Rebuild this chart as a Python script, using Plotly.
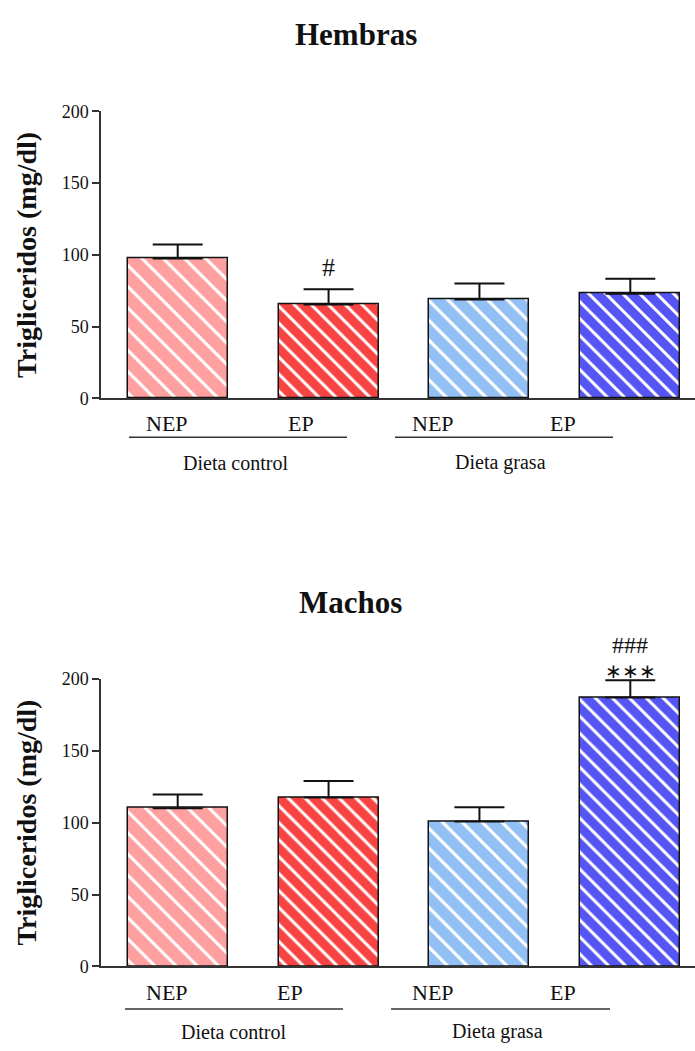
import plotly.graph_objects as go

W, H = 695, 1051

groups = ["Dieta control", "Dieta grasa"]
categories = ["NEP", "EP", "NEP", "EP"]
colors = ["#FFA0A0", "#F84343", "#92C0F5", "#5555F3"]
stripe_sizes = [15, 12, 14, 12]
stripe_solidity = [0.2, 0.25, 0.22, 0.25]

hembras_mean = [97.5, 65.4, 69.0, 72.9]
hembras_err = [9.8, 10.6, 11.0, 10.5]
hembras_marks = ["", "#", "", ""]

machos_mean = [110.0, 117.5, 100.7, 187.0]
machos_err = [9.5, 11.4, 10.0, 11.9]
machos_marks = ["", "", "", "∗∗∗"]
machos_marks2 = ["", "", "", "###"]

FONT = "Liberation Serif, Times New Roman, serif"

# pixel helpers (layout only)
def px(x):
    return x / W

def py(y):
    return 1 - y / H

x_left_px, x_right_px = 101, 695
bar_c0, bar_step = 177.7, 150.87
xrange = [(x_left_px - bar_c0) / bar_step, (x_right_px - bar_c0) / bar_step]
xpos = list(range(len(categories)))

fig = go.Figure()

panels = [
    dict(mean=hembras_mean, err=hembras_err, xa="x", ya="y", top=103.3, bot=396.0,
         title="Hembras", title_xy=(356, 25), lab_y=421.7, line_y=435.5, grp_y=461.7,
         lab_x=[166.7, 300.5, 433, 563], lines=[(129, 347), (395, 613)], grp_x=[235.8, 500.8],
         marks=hembras_marks, marks2=None),
    dict(mean=machos_mean, err=machos_err, xa="x2", ya="y2", top=681.7, bot=975.0,
         title="Machos", title_xy=(350, 604), lab_y=1001.7, line_y=1018.3, grp_y=1041.7,
         lab_x=[167, 290, 432.5, 562.8], lines=[(125, 343), (391, 610)], grp_x=[233.8, 497.5],
         marks=machos_marks, marks2=machos_marks2),
]

annotations = []
shapes = []
for i, p in enumerate(panels):
    for k in range(len(categories)):
        fig.add_trace(go.Bar(
            x=[xpos[k]], y=[p["mean"][k]], width=0.663, xaxis=p["xa"], yaxis=p["ya"],
            marker=dict(color=colors[k], line=dict(color="#111", width=1.5),
                        pattern=dict(shape="\\", fgcolor="white", fgopacity=1, bgcolor=colors[k],
                                     size=stripe_sizes[k], solidity=stripe_solidity[k],
                                     fillmode="overlay")),
            error_y=dict(type="data", symmetric=False, array=[p["err"][k]],
                         arrayminus=[0], color="#111", thickness=2, width=25),
            showlegend=False, cliponaxis=False, name=categories[k],
        ))
    suffix = "" if i == 0 else "2"
    fig.update_layout(**{
        "xaxis" + suffix: dict(domain=[px(x_left_px), 1], range=xrange, showline=True,
                               linecolor="#333", linewidth=1.5, showticklabels=False,
                               ticks="", showgrid=False, zeroline=False, anchor="y" + suffix),
        "yaxis" + suffix: dict(domain=[py(p["bot"]), py(p["top"])], range=[0, 200],
                               showline=True, linecolor="#333", linewidth=1.5,
                               ticks="outside", ticklen=7, tickwidth=1.5, tickcolor="#333",
                               tickvals=[0, 50, 100, 150, 200],
                               tickfont=dict(family=FONT, size=18, color="#111"),
                               showgrid=False, zeroline=False, anchor="x" + suffix),
    })
    annotations.append(dict(text="<b>%s</b>" % p["title"], x=px(p["title_xy"][0]), y=py(p["title_xy"][1]),
                            xref="paper", yref="paper", showarrow=False,
                            font=dict(family=FONT, size=31, color="#111"),
                            xanchor="center", yanchor="middle"))
    annotations.append(dict(text="<b>Trigliceridos (mg/dl)</b>", x=px(27), y=py((p["top"] + p["bot"]) / 2),
                            xref="paper", yref="paper", showarrow=False, textangle=-90,
                            font=dict(family=FONT, size=28, color="#111"),
                            xanchor="center", yanchor="middle"))
    for lx, lab in zip(p["lab_x"], categories):
        annotations.append(dict(text=lab, x=px(lx), y=py(p["lab_y"]), xref="paper", yref="paper",
                                showarrow=False, font=dict(family=FONT, size=22, color="#111"),
                                xanchor="center", yanchor="middle"))
    for (x0, x1), gx, g in zip(p["lines"], p["grp_x"], groups):
        shapes.append(dict(type="line", xref="paper", yref="paper", x0=px(x0), x1=px(x1),
                           y0=py(p["line_y"]), y1=py(p["line_y"]), line=dict(color="#333", width=1.5)))
        annotations.append(dict(text=g, x=px(gx), y=py(p["grp_y"]), xref="paper", yref="paper",
                                showarrow=False, font=dict(family=FONT, size=20, color="#111"),
                                xanchor="center", yanchor="middle"))
    for xi, (m, v, e) in enumerate(zip(p["marks"], p["mean"], p["err"])):
        if m:
            is_hash = m == "#"
            annotations.append(dict(text=m, x=xi, y=v + e, xref=p["xa"], yref=p["ya"], showarrow=False,
                                    font=dict(family=FONT, size=26 if is_hash else 20, color="#111"),
                                    xanchor="center", yanchor="bottom", yshift=5 if is_hash else -4))
    if p["marks2"]:
        for xi, (m, v, e) in enumerate(zip(p["marks2"], p["mean"], p["err"])):
            if m:
                annotations.append(dict(text=m, x=xi, y=v + e, xref=p["xa"], yref=p["ya"], showarrow=False,
                                        font=dict(family=FONT, size=24, color="#111"),
                                        xanchor="center", yanchor="bottom", yshift=20))

fig.update_layout(width=W, height=H, margin=dict(l=0, r=0, t=0, b=0),
                  paper_bgcolor="white", plot_bgcolor="white",
                  annotations=annotations, shapes=shapes, bargap=0, barmode="overlay")

fig.write_html("out.html")
